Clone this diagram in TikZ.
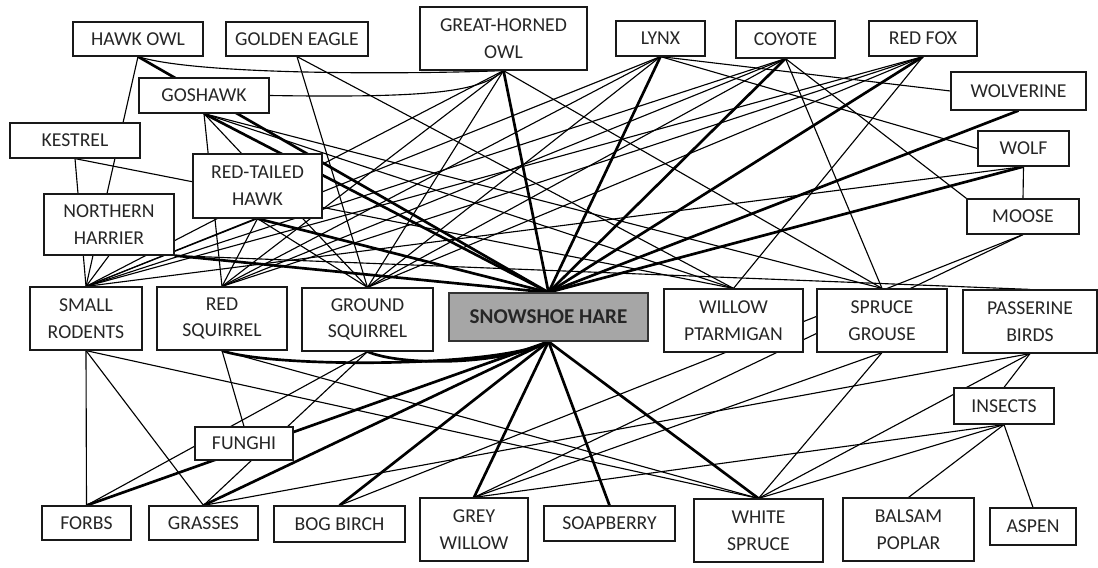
\documentclass[tikz,border=0pt]{standalone}
\usepackage{fontspec}
\setmainfont{Carlito}
\usetikzlibrary{backgrounds}
\definecolor{haregray}{RGB}{166,166,166}
\begin{document}
\begin{tikzpicture}[x=0.025cm,y=-0.025cm,
  box/.style={draw=black!90, line width=0.85pt, fill=white, align=center, inner sep=0pt,
              text=black!85, font=\fontsize{14}{19}\selectfont},
  ln/.style={line width=0.8pt, black},
  tk/.style={line width=1.9pt, black}]
\useasboundingbox (0,0) rectangle (1098,567);
% ---- top predators
\node[box, minimum width=130*0.025cm, minimum height=34*0.025cm] (hawkowl) at (138,39) {HAWK OWL};
\node[box, minimum width=142*0.025cm, minimum height=34*0.025cm] (goldeagle) at (297,39) {GOLDEN EAGLE};
\node[box, minimum width=167*0.025cm, minimum height=63*0.025cm] (gho) at (503.5,38.5) {GREAT-HORNED\\OWL};
\node[box, minimum width=89*0.025cm, minimum height=35*0.025cm] (lynx) at (660.5,38.5) {LYNX};
\node[box, minimum width=99*0.025cm, minimum height=37*0.025cm] (coyote) at (785.5,39.5) {COYOTE};
\node[box, minimum width=108*0.025cm, minimum height=35*0.025cm] (redfox) at (923,38.5) {RED FOX};
\node[box, minimum width=135*0.025cm, minimum height=38*0.025cm] (wolverine) at (1018.5,91) {WOLVERINE};
\node[box, minimum width=91*0.025cm, minimum height=35*0.025cm] (wolf) at (1023.5,148.5) {WOLF};
\node[box, minimum width=112*0.025cm, minimum height=35*0.025cm] (moose) at (1023,216.5) {MOOSE};
\node[box, minimum width=130*0.025cm, minimum height=35*0.025cm] (goshawk) at (204,95.5) {GOSHAWK};
\node[box, minimum width=130*0.025cm, minimum height=35*0.025cm] (kestrel) at (75,140.5) {KESTREL};
\node[box, minimum width=129*0.025cm, minimum height=64*0.025cm] (rth) at (257.5,186) {RED-TAILED\\HAWK};
\node[box, minimum width=130*0.025cm, minimum height=61*0.025cm] (harrier) at (109,224.5) {NORTHERN\\HARRIER};
% ---- herbivores
\node[box, minimum width=112*0.025cm, minimum height=63*0.025cm] (smallrod) at (86,318.5) {SMALL\\RODENTS};
\node[box, minimum width=130*0.025cm, minimum height=63*0.025cm] (redsq) at (222,318.5) {RED\\SQUIRREL};
\node[box, minimum width=131*0.025cm, minimum height=63*0.025cm] (groundsq) at (367.5,319.5) {GROUND\\SQUIRREL};
\node[box, fill=haregray, draw=black!80, minimum width=199*0.025cm, minimum height=48*0.025cm,
      font=\bfseries\fontsize{15}{18}\selectfont] (hare) at (548.5,317) {SNOWSHOE HARE};
\node[box, minimum width=139*0.025cm, minimum height=63*0.025cm] (ptarmigan) at (733.5,320.5) {WILLOW\\PTARMIGAN};
\node[box, minimum width=130*0.025cm, minimum height=63*0.025cm] (grouse) at (882,320.5) {SPRUCE\\GROUSE};
\node[box, minimum width=134*0.025cm, minimum height=63*0.025cm] (passerine) at (1030,321.5) {PASSERINE\\BIRDS};
\node[box, minimum width=100*0.025cm, minimum height=36*0.025cm] (insects) at (1004,406) {INSECTS};
\node[box, minimum width=98*0.025cm, minimum height=33*0.025cm] (funghi) at (244,443.5) {FUNGHI};
% ---- plants
\node[box, minimum width=89*0.025cm, minimum height=34*0.025cm] (forbs) at (86.5,523) {FORBS};
\node[box, minimum width=109*0.025cm, minimum height=34*0.025cm] (grasses) at (203.5,523) {GRASSES};
\node[box, minimum width=131*0.025cm, minimum height=36*0.025cm] (bogbirch) at (339.5,524) {BOG BIRCH};
\node[box, minimum width=108*0.025cm, minimum height=63*0.025cm] (greywillow) at (474,529.5) {GREY\\WILLOW};
\node[box, minimum width=131*0.025cm, minimum height=35*0.025cm] (soapberry) at (609.5,523.5) {SOAPBERRY};
\node[box, minimum width=129*0.025cm, minimum height=63*0.025cm] (whitespruce) at (758.5,530.5) {WHITE\\SPRUCE};
\node[box, minimum width=131*0.025cm, minimum height=63*0.025cm] (balsam) at (908.5,529.5) {BALSAM\\POPLAR};
\node[box, minimum width=86*0.025cm, minimum height=37*0.025cm] (aspen) at (1033,526.5) {ASPEN};

\begin{scope}[on background layer]
% ---- thick links of the snowshoe hare
\draw[tk] (hawkowl.south) -- (hare.north);
\draw[tk] (goshawk.south) -- (hare.north);
\draw[tk] (harrier.south east) -- (hare.north);
\draw[tk] (rth.south) -- (hare.north);
\draw[tk] (gho.south) -- (hare.north);
\draw[tk] (lynx.south) -- (hare.north);
\draw[tk] (coyote.south) -- (hare.north);
\draw[tk] (redfox.south) -- (hare.north);
\draw[tk] (wolverine.south) -- (hare.north);
\draw[tk] (wolf.south) -- (hare.north);
\draw[tk] (hare.south) -- (forbs.north);
\draw[tk] (hare.south) -- (grasses.north);
\draw[tk] (hare.south) -- (bogbirch.north);
\draw[tk] (hare.south) -- (greywillow.north);
\draw[tk] (hare.south) -- (soapberry.north);
\draw[tk] (hare.south) -- (whitespruce.north);
\draw[tk] (hare.south) .. controls (500,368) and (270,368) .. (redsq.south);
\draw[tk] (hare.south) .. controls (500,366) and (400,366) .. (groundsq.south);
% ---- predators
\draw[ln] (hawkowl.south) -- (smallrod.north);
\draw[ln] (gho.south) .. controls (420,74) and (200,76) .. (hawkowl.south);
\draw[ln] (goshawk.east) .. controls (430,98) and (480,92) .. (gho.south);
\draw[ln] (goldeagle.south) -- (groundsq.north);
\draw[ln] (goldeagle.south) -- (ptarmigan.north);
\draw[ln] (gho.south) -- (smallrod.north);
\draw[ln] (gho.south) -- (redsq.north);
\draw[ln] (gho.south) -- (groundsq.north);
\draw[ln] (gho.south) -- (grouse.north);
\draw[ln] (lynx.south) -- (smallrod.north);
\draw[ln] (lynx.south) -- (redsq.north);
\draw[ln] (lynx.south) -- (groundsq.north);
\draw[ln] (lynx.south) -- (wolverine.west);
\draw[ln] (lynx.south) -- (wolf.west);
\draw[ln] (coyote.south) -- (smallrod.north);
\draw[ln] (coyote.south) -- (redsq.north);
\draw[ln] (coyote.south) -- (groundsq.north);
\draw[ln] (coyote.south) -- (grouse.north);
\draw[ln] (coyote.south) -- (moose.north west);
\draw[ln] (redfox.south) -- (smallrod.north);
\draw[ln] (redfox.south) -- (redsq.north);
\draw[ln] (redfox.south) -- (groundsq.north);
\draw[ln] (redfox.south) -- (ptarmigan.north);
\draw[ln] (wolf.south) -- (moose.north);
\draw[ln] (wolf.south) -- (smallrod.north);
\draw[ln] (goshawk.south) -- (redsq.north);
\draw[ln] (goshawk.south) -- (groundsq.north);
\draw[ln] (goshawk.south) -- (ptarmigan.north);
\draw[ln] (goshawk.south) -- (grouse.north);
\draw[ln] (kestrel.south) -- (smallrod.north);
\draw[ln] (kestrel.south) -- (ptarmigan.north);
\draw[ln] (harrier.south) -- (smallrod.north);
\draw[ln] (harrier.south east) -- (passerine.north);
\draw[ln] (rth.south) -- (smallrod.north);
\draw[ln] (rth.south) -- (redsq.north);
\draw[ln] (rth.south) -- (groundsq.north);
% ---- herbivores
\draw[ln] (moose.south) -- (bogbirch.north);
\draw[ln] (moose.south) -- (greywillow.north);
\draw[ln] (smallrod.south) -- (forbs.north);
\draw[ln] (smallrod.south) -- (grasses.north);
\draw[ln] (smallrod.south) -- (whitespruce.north);
\draw[ln] (redsq.south) -- (funghi.north);
\draw[ln] (redsq.south) -- (whitespruce.north);
\draw[ln] (groundsq.south) -- (forbs.north);
\draw[ln] (groundsq.south) -- (grasses.north);
\draw[ln] (grouse.south) -- (whitespruce.north);
\draw[ln] (grouse.south) -- (greywillow.north);
\draw[ln] (passerine.south) -- (whitespruce.north);
\draw[ln] (passerine.south) -- (insects.north);
\draw[ln] (passerine.south) -- (grasses.north);
\draw[ln] (insects.south) -- (whitespruce.north);
\draw[ln] (insects.south) -- (balsam.north);
\draw[ln] (insects.south) -- (aspen.north);
\draw[ln] (insects.south) -- (greywillow.north);
\end{scope}
\end{tikzpicture}
\end{document}
